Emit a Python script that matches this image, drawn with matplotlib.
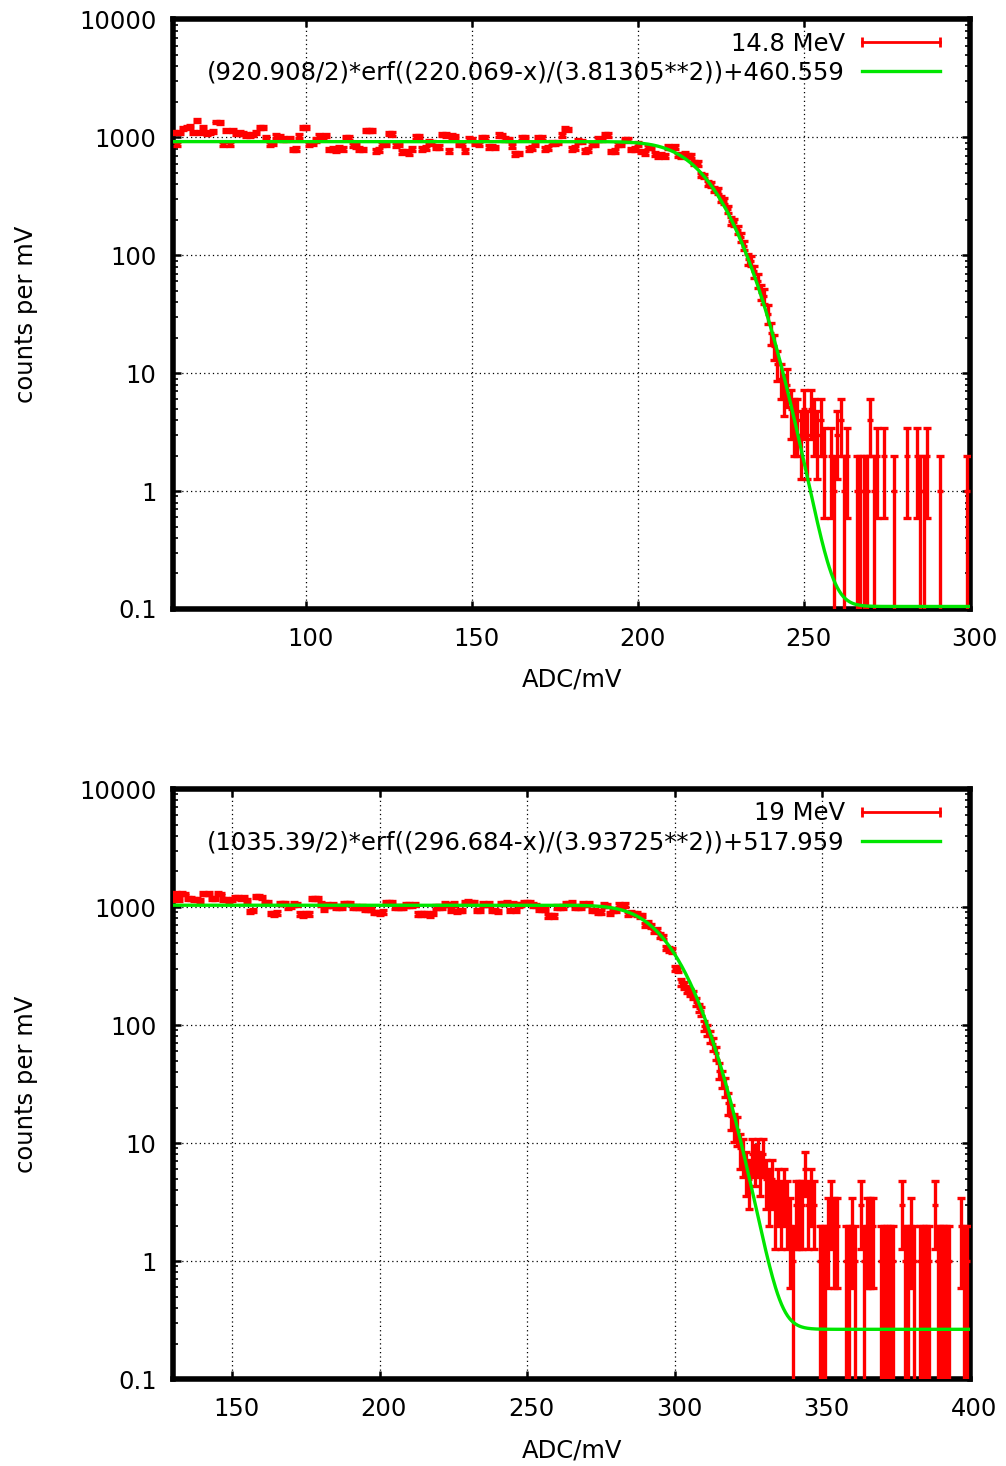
import math
import numpy as np
import matplotlib
matplotlib.use("Agg")
import matplotlib.pyplot as plt
from matplotlib.lines import Line2D
from matplotlib.legend_handler import HandlerLine2D
from matplotlib.transforms import ScaledTranslation
from matplotlib.ticker import FixedLocator, FixedFormatter, LogLocator, NullFormatter

plt.rcParams['font.family'] = ['DejaVu Sans']

# ---------------------------------------------------------------------------
# 14.8 MeV spectrum: counts per 1 mV bin, first bin at 60 mV
# ---------------------------------------------------------------------------
start_148 = 60
counts_148 = [
    1100, 880, 1100, 1200, 1220, 1230, 1100, 1390, 1100, 1220,   # 60
    1080, 1100, 1120, 1350, 1340, 880, 1150, 880, 1150, 1080,    # 70
    1090, 1080, 1050, 1040, 1060, 1100, 1220, 1210, 1000, 880,   # 80
    890, 1030, 1020, 970, 960, 980, 790, 800, 1030, 1220,        # 90
    1210, 880, 890, 950, 1030, 1020, 1040, 790, 800, 780,        # 100
    820, 800, 1000, 990, 860, 850, 800, 790, 1150, 1140,         # 110
    1150, 770, 780, 880, 870, 1080, 1070, 860, 870, 750,         # 120
    760, 740, 800, 1010, 1020, 800, 810, 920, 900, 820,          # 130
    830, 1060, 1050, 770, 1030, 1020, 870, 880, 770, 970,        # 140
    960, 890, 880, 1000, 990, 830, 840, 820, 1050, 1040,         # 150
    970, 960, 850, 720, 730, 990, 1000, 800, 810, 870,           # 160
    1000, 990, 800, 810, 900, 890, 910, 1050, 1180, 1170,        # 170
    800, 810, 930, 920, 770, 780, 880, 870, 970, 960,            # 180
    1060, 1050, 760, 770, 880, 870, 960, 950, 790, 800,          # 190
    880, 760, 740, 830, 820, 720, 700, 710, 700, 830,            # 200
    820, 830, 710, 700, 720, 700, 690, 610, 600, 480,            # 210
    470, 410, 400, 360, 350, 300, 290, 245, 196, 190,            # 220
    165, 142, 121, 93, 90, 73, 61, 49, 45, 32,                   # 230
    22, 17, 12, 9, 7, 8, 5, 4, 4, 3,                             # 240
    5, 3, 5, 4, 3, 4, 2, 0, 2, 1,                                # 250
    3, 4, 1, 2, 0, 0, 1, 1, 1, 1,                                # 260
    4, 1, 2, 0, 2, 0, 0, 1, 0, 0,                                # 270
    0, 2, 0, 0, 2, 1, 1, 2, 0, 0,                                # 280
    0, 1, 0, 0, 0, 0, 0, 0, 0, 1,                                # 290
]

# ---------------------------------------------------------------------------
# 19 MeV spectrum: counts per 1 mV bin, first bin at 130 mV
# ---------------------------------------------------------------------------
start_19 = 130
counts_19 = [
    1150, 1300, 1150, 1300, 1290, 1180, 1170, 1150, 1150, 1140,  # 130
    1300, 1290, 1310, 1180, 1170, 1300, 1290, 1150, 1150, 1140,  # 140
    1160, 1200, 1210, 1190, 1200, 1140, 920, 930, 1220, 1230,    # 150
    1210, 1100, 1090, 880, 870, 890, 1080, 1070, 1080, 1000,     # 160
    1010, 1060, 1050, 870, 860, 880, 870, 1180, 1170, 1180,      # 170
    1060, 950, 1040, 1030, 1040, 1000, 1000, 990, 1080, 1080,    # 180
    1070, 1000, 1000, 990, 1000, 960, 960, 950, 900, 900,        # 190
    890, 910, 1100, 1100, 1090, 1000, 1000, 990, 1000, 1040,     # 200
    1040, 1030, 1050, 870, 870, 880, 870, 860, 880, 1000,        # 210
    1000, 990, 1060, 1050, 930, 1060, 920, 930, 940, 1100,       # 220
    1110, 1090, 1100, 930, 940, 1060, 1050, 1060, 930, 940,      # 230
    920, 1080, 1070, 1090, 930, 1080, 940, 1040, 1050, 1100,     # 240
    1090, 1100, 1040, 1030, 950, 960, 950, 840, 850, 840,        # 250
    1000, 990, 1000, 1080, 1070, 1090, 1000, 990, 1000, 1060,    # 260
    1050, 1070, 930, 940, 900, 910, 1040, 1030, 880, 930,        # 270
    930, 1040, 1010, 1040, 870, 900, 880, 870, 840, 850,         # 280
    700, 740, 690, 630, 640, 575, 560, 450, 440, 430,            # 290
    302, 300, 230, 218, 200, 190, 180, 157, 140, 131,            # 300
    99, 90, 80, 69, 58, 41, 35, 30, 22, 17,                      # 310
    14, 13, 9, 8, 6, 5, 8, 7, 8, 6,                              # 320
    8, 5, 4, 5, 3, 4, 3, 4, 3, 2,                                # 330
    1, 3, 3, 3, 6, 3, 4, 3, 0, 1,                                # 340
    1, 1, 2, 3, 2, 2, 0, 0, 1, 1,                                # 350
    2, 1, 0, 3, 1, 2, 2, 2, 0, 0,                                # 360
    1, 1, 1, 1, 1, 0, 0, 3, 1, 1,                                # 370
    2, 1, 0, 1, 1, 1, 1, 0, 3, 1,                                # 380
    1, 1, 1, 1, 0, 0, 0, 2, 1, 1,                                # 390
]

# Fit parameters: (A/2)*erf((c-x)/(s**2))+B
fit_148 = dict(A=920.908, c=220.069, s=3.81305, B=460.559)
fit_19 = dict(A=1035.39, c=296.684, s=3.93725, B=517.959)

labels_148 = "14.8 MeV"
labels_19 = "19 MeV"
xlim_148 = (60, 300)
xlim_19 = (130, 400)
xticks_148 = [100, 150, 200, 250, 300]
xticks_19 = [150, 200, 250, 300, 350, 400]
yticks = [0.1, 1, 10, 100, 1000, 10000]
ytick_labels = ["0.1", "1", "10", "100", "1000", "10000"]

RED = "#ff0000"
GREEN = "#00e600"
FS = 17.5


def erf_curve(x, A, c, s, B):
    z = (c - x) / (s ** 2)
    return (A / 2.0) * np.array([math.erf(v) for v in z]) + B


def panel(fig, ax, start, counts, fit, label, xlim, xticks):
    n = np.asarray(counts, dtype=float)
    adc = start + np.arange(len(n))
    keep = n > 0
    x, y = adc[keep], n[keep]
    err = np.sqrt(y)
    lower = np.minimum(err, y * 0.999)   # empty-bin bars run down past the axis
    ax.errorbar(x, y, yerr=[lower, err], fmt="_", color=RED, ecolor=RED,
                ms=4, mew=2.4, elinewidth=2.4, capsize=3.2, capthick=2.9,
                zorder=3)

    xf = np.linspace(xlim[0], xlim[1], 800)
    ax.plot(xf, erf_curve(xf, **fit), color=GREEN, lw=2.4, zorder=4)

    ax.set_yscale("log")
    ax.set_xlim(*xlim)
    ax.set_ylim(0.1, 10000)
    ax.xaxis.set_major_locator(FixedLocator(xticks))
    ax.xaxis.set_major_formatter(FixedFormatter([str(t) for t in xticks]))
    ax.yaxis.set_major_locator(FixedLocator(yticks))
    ax.yaxis.set_major_formatter(FixedFormatter(ytick_labels))
    ax.yaxis.set_minor_locator(LogLocator(base=10, subs=np.arange(2, 10)))
    ax.yaxis.set_minor_formatter(NullFormatter())

    ax.tick_params(which="major", direction="in", length=6, width=1.8,
                   top=True, right=True, labelsize=FS, pad=12)
    ax.tick_params(which="minor", direction="in", length=3.5, width=1.2,
                   top=True, right=True)
    ax.tick_params(axis="x", which="major", pad=13)
    shift = ScaledTranslation(4 / 100, 0, fig.dpi_scale_trans)
    for lab in ax.get_xticklabels():
        lab.set_transform(lab.get_transform() + shift)
    for sp in ax.spines.values():
        sp.set_linewidth(4.0)
    ax.grid(True, which="major", color="black", linestyle=(0, (1, 2.5)),
            linewidth=0.9)

    ax.set_xlabel("ADC/mV", fontsize=FS)
    ax.set_ylabel("counts per mV", fontsize=FS)
    ax.xaxis.set_label_coords(0.5, -0.100)
    ax.yaxis.set_label_coords(-0.170, 0.5)

    red_h = Line2D([], [], color=RED, lw=2.0, marker="|", ms=7, mew=2.0)
    green_h = Line2D([], [], color=GREEN, lw=2.4)
    formula = "({A}/2)*erf(({c}-x)/({s}**2))+{B}".format(**fit)
    leg = ax.legend([red_h, green_h], [label, formula], loc="upper right",
                    bbox_to_anchor=(0.962, 0.979), frameon=False,
                    markerfirst=False, fontsize=FS, handlelength=3.2,
                    handletextpad=0.7, labelspacing=0.2, borderpad=0,
                    borderaxespad=0,
                    handler_map={red_h: HandlerLine2D(numpoints=2, marker_pad=0)})
    leg.set_zorder(6)


fig = plt.figure(figsize=(10.06, 14.66), dpi=100)
ax1 = fig.add_axes([0.1723, 0.5846, 0.7919, 0.4021])
ax2 = fig.add_axes([0.1723, 0.0593, 0.7919, 0.4025])

panel(fig, ax1, start_148, counts_148, fit_148, labels_148, xlim_148, xticks_148)
panel(fig, ax2, start_19, counts_19, fit_19, labels_19, xlim_19, xticks_19)

fig.savefig("out.png", dpi=100)
